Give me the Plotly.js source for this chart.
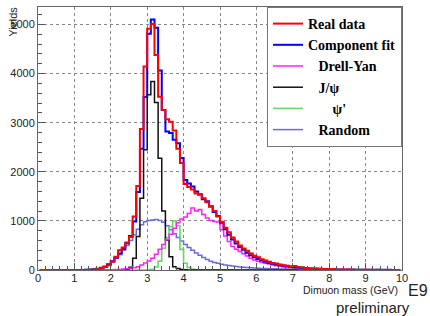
<!DOCTYPE html>
<html>
<head>
<meta charset="utf-8">
<script src="https://cdn.plot.ly/plotly-3.0.1.min.js"></script>
<style>html,body{margin:0;padding:0;background:#fff;}#chart{width:430px;height:316px;}</style>
</head>
<body>
<div id="chart"></div>
<script>
// Histogram binning: 100 bins of 0.1 GeV from 0 to 10 GeV
var binLow = 0, binWidth = 0.1, nBins = 100;
var binCenters = [];
for (var i = 0; i < nBins; i++) binCenters.push(+(binLow + (i + 0.5) * binWidth).toFixed(3));

var seriesNames = ["Real data", "Component fit", "Drell-Yan", "J/\u03c8", "\u03c8'", "Random"];

var realData = [
  0,0,0,0,0,0,0,0,0,0,
  0,0,1,3,6,12,22,38,60,95,
  170,270,400,460,560,670,1090,1710,2870,4145,
  4910,5010,4380,3530,3260,3070,3020,2840,2470,2180,
  1750,1690,1640,1560,1530,1460,1380,1290,1200,1090,
  980,860,770,660,580,500,440,390,335,290,
  260,220,195,170,140,130,110,95,88,70,
  80,60,55,40,38,30,28,22,20,15,
  18,12,10,9,7,8,5,6,4,4,
  3,3,2,3,2,1,2,1,1,1
];
var componentFit = [
  0,0,0,0,0,0,0,0,0,0,
  0,0,2,5,9,15,27,45,72,115,
  180,255,335,430,545,690,990,1590,2470,3520,
  4810,5100,4930,4060,3260,2820,2790,2650,2580,2280,
  1830,1760,1700,1600,1540,1440,1400,1300,1180,1100,
  960,830,720,620,540,470,410,350,300,258,
  222,192,166,145,127,111,97,85,74,65,
  57,50,44,38,33,29,26,23,20,18,
  16,14,12,11,10,9,8,7,6,6,
  5,5,4,4,3,3,3,2,2,2
];
var drellYan = [
  0,0,0,0,0,0,0,0,0,0,
  0,0,0,0,0,1,1,2,3,4,
  5,8,12,18,25,35,48,68,100,140,
  185,240,320,420,520,620,730,850,960,1040,
  1080,1150,1260,1200,1230,1130,1060,1010,990,975,
  820,690,580,480,425,375,330,285,240,205,
  180,155,135,120,102,88,75,63,53,45,
  38,32,27,23,19,16,14,12,10,9,
  8,7,6,5,4,4,3,3,3,2,
  2,2,2,1,1,1,1,1,1,1
];
var jpsi = [
  0,0,0,0,0,0,0,0,0,0,
  0,0,0,0,0,0,0,0,0,0,
  0,0,0,0,3,54,238,680,1460,2447,
  3568,3840,3411,2277,1203,612,272,68,30,10,
  5,2,0,0,0,0,0,0,0,0,
  0,0,0,0,0,0,0,0,0,0,
  0,0,0,0,0,0,0,0,0,0,
  0,0,0,0,0,0,0,0,0,0,
  0,0,0,0,0,0,0,0,0,0,
  0,0,0,0,0,0,0,0,0,0
];
var psiPrime = [
  0,0,0,0,0,0,0,0,0,0,
  0,0,0,0,0,0,0,0,0,0,
  0,0,0,0,0,0,0,0,0,1,
  5,15,60,180,440,660,880,1000,900,420,
  136,54,15,5,2,0,0,0,0,0,
  0,0,0,0,0,0,0,0,0,0,
  0,0,0,0,0,0,0,0,0,0,
  0,0,0,0,0,0,0,0,0,0,
  0,0,0,0,0,0,0,0,0,0,
  0,0,0,0,0,0,0,0,0,0
];
var randomBkg = [
  0,0,0,0,0,0,0,0,0,0,
  0,0,0,3,6,12,22,40,65,110,
  170,240,310,400,500,600,720,830,920,980,
  1010,1020,1030,1010,970,900,820,740,660,590,
  520,460,400,345,300,255,215,180,155,135,
  118,103,90,80,70,62,55,49,44,40,
  36,33,30,27,25,23,21,19,17,16,
  15,14,13,12,11,10,9,9,8,8,
  7,7,6,6,5,5,5,4,4,4,
  3,3,3,3,2,2,2,2,2,2
];

var xTickVals = [0,1,2,3,4,5,6,7,8,9,10];
var yTickVals = [0,1000,2000,3000,4000,5000];

function step(y, name, color, width, rank) {
  return {
    type: 'scatter', mode: 'lines', x: binCenters, y: y, name: name,
    line: {shape: 'hvh', color: color, width: width},
    legendrank: rank, hoverinfo: 'skip'
  };
}

var sp3 = '\u00a0\u00a0\u00a0', sp7 = '\u00a0\u00a0\u00a0\u00a0\u00a0\u00a0\u00a0';
var traces = [
  step(randomBkg, sp3 + seriesNames[5], '#6b6be0', 1.5, 6),
  step(psiPrime, sp7 + seriesNames[4], '#66d866', 1.6, 5),
  step(jpsi, sp3 + seriesNames[3], '#111111', 1.5, 4),
  step(drellYan, sp3 + seriesNames[2], '#ff22ff', 1.5, 3),
  step(componentFit, seriesNames[1], '#0000ff', 2, 2),
  step(realData, seriesNames[0], '#ff0000', 2, 1)
];

var axFont = {family: 'Liberation Sans, Arial, sans-serif', size: 11, color: '#222'};

var layout = {
  width: 430, height: 316,
  margin: {l: 38, r: 28, t: 7, b: 46, pad: 0},
  paper_bgcolor: '#fff', plot_bgcolor: '#fff',
  showlegend: true,
  legend: {
    x: 1, xanchor: 'right', y: 1, yanchor: 'top',
    bgcolor: '#fff', bordercolor: '#777', borderwidth: 1,
    font: {family: 'Liberation Serif, Times New Roman, serif', size: 14, color: '#000', weight: 'bold'},
    itemwidth: 30, tracegroupgap: 0
  },
  xaxis: {
    range: [0, 10], tickvals: xTickVals, ticktext: xTickVals.map(String),
    ticks: 'inside', ticklen: 7, tickcolor: '#555', tickwidth: 1,
    showline: true, linecolor: '#666', linewidth: 1, mirror: true,
    showgrid: true, gridcolor: '#888', griddash: 'dot', gridwidth: 1,
    zeroline: false, tickfont: axFont, ticklabelstandoff: -2,
    minor: {dtick: 0.2, tick0: 0, ticks: 'inside', ticklen: 4, tickcolor: '#555', showgrid: false}
  },
  yaxis: {
    range: [0, 5355], tickvals: yTickVals, ticktext: yTickVals.map(String),
    ticks: 'inside', ticklen: 7, tickcolor: '#555', tickwidth: 1,
    showline: true, linecolor: '#666', linewidth: 1, mirror: true,
    showgrid: true, gridcolor: '#888', griddash: 'dot', gridwidth: 1,
    zeroline: false, tickfont: axFont,
    minor: {dtick: 200, tick0: 0, ticks: 'inside', ticklen: 4, tickcolor: '#555', showgrid: false}
  },
  annotations: [
    {text: 'Yields', xref: 'paper', yref: 'paper', x: -0.068, y: 0.945, textangle: -90,
     xanchor: 'center', yanchor: 'middle', showarrow: false, borderpad: 0,
     font: {family: 'Liberation Sans, Arial, sans-serif', size: 11, color: '#222'}},
    {text: 'Dimuon mass (GeV)', xref: 'paper', yref: 'paper', x: 0.9918, y: -0.0760,
     xanchor: 'right', yanchor: 'middle', showarrow: false, borderpad: 0,
     font: {family: 'Liberation Sans, Arial, sans-serif', size: 10.5, color: '#222'}},
    {text: 'E9', xref: 'paper', yref: 'paper', x: 1.0755, y: -0.0798,
     xanchor: 'right', yanchor: 'middle', showarrow: false, borderpad: 0,
     font: {family: 'Liberation Sans, Arial, sans-serif', size: 16, color: '#222'}},
    {text: 'preliminary', xref: 'paper', yref: 'paper', x: 0.8160, y: -0.144,
     xanchor: 'left', yanchor: 'middle', showarrow: false, borderpad: 0,
     font: {family: 'Liberation Sans, Arial, sans-serif', size: 15, color: '#222'}}
  ]
};

Plotly.newPlot('chart', traces, layout, {staticPlot: true, displayModeBar: false});
</script>
</body>
</html>
